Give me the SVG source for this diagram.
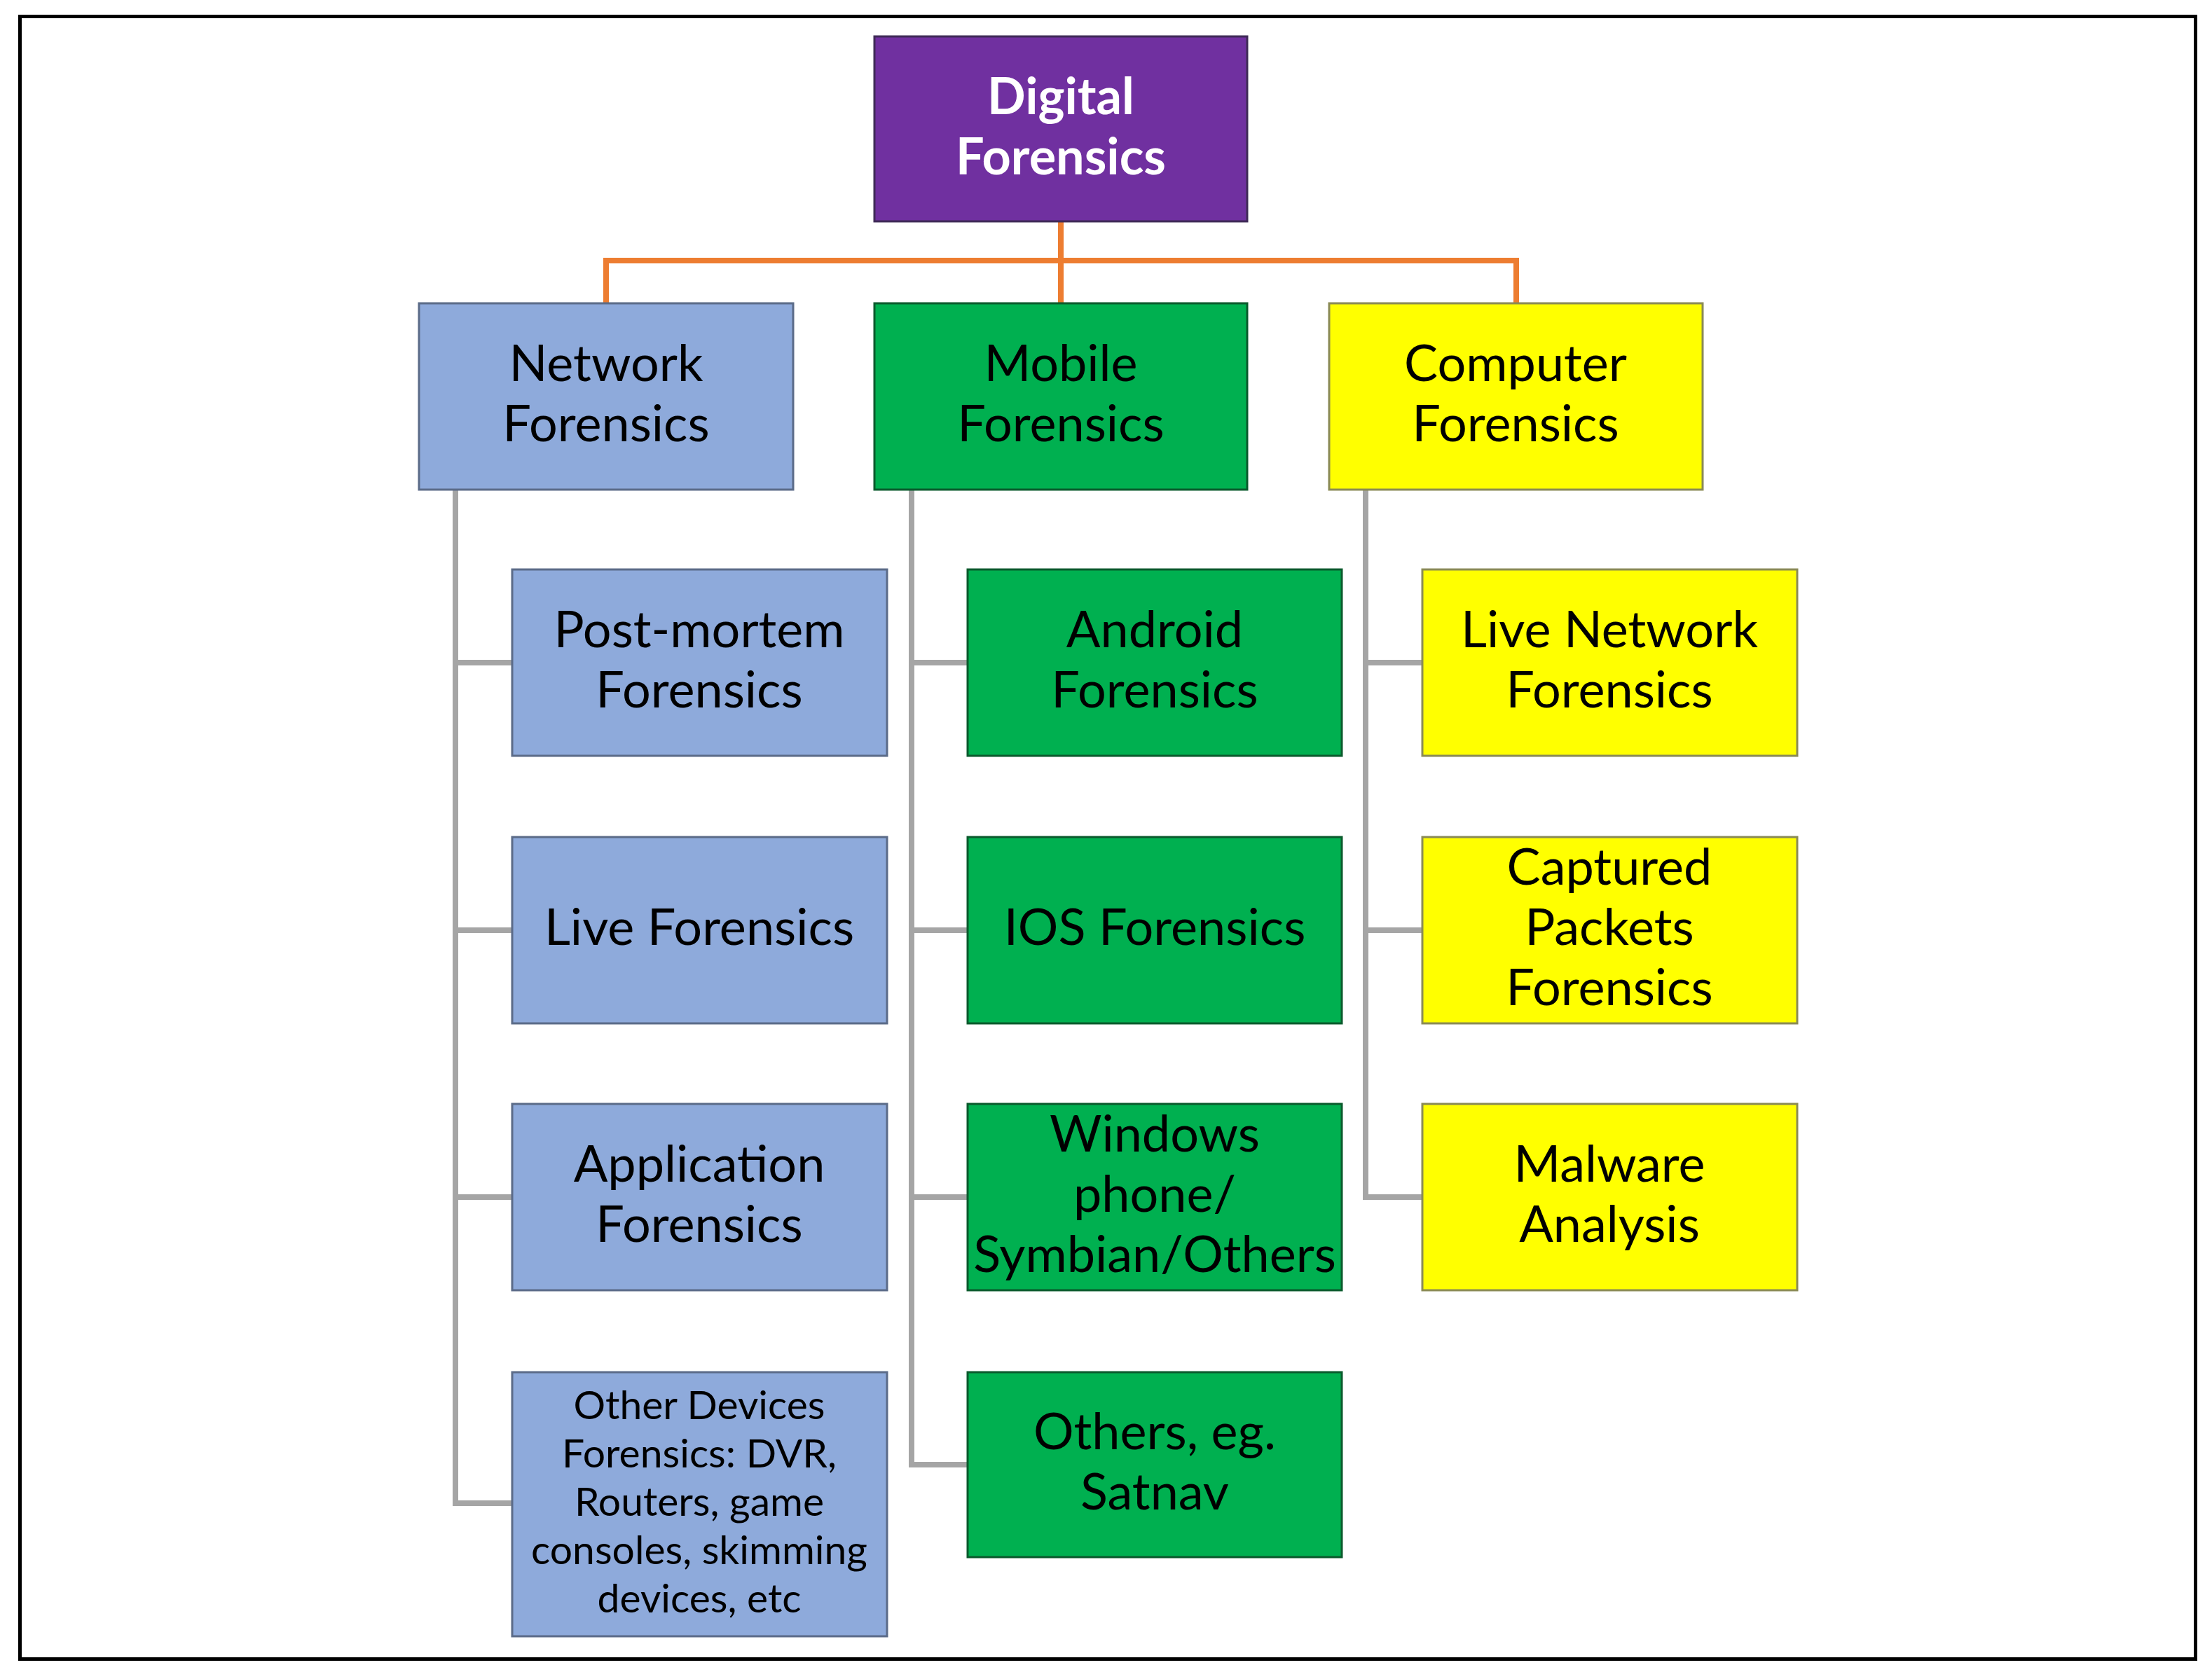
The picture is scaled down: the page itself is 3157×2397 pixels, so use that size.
<svg xmlns="http://www.w3.org/2000/svg" width="3157" height="2397" viewBox="0 0 3157 2397">
<style>
text{font-family:Lato,"Noto Sans","Liberation Sans",sans-serif;font-size:72px;fill:#000;text-anchor:middle}
.small{font-size:57px}
.top{fill:#7030a0;stroke:#3f2a57;stroke-width:3}
.top-t{fill:#fff;font-weight:bold}
.net{fill:#8eaadb;stroke:#5b6b88;stroke-width:3}
.mob{fill:#00b050;stroke:#0a5a2c;stroke-width:3}
.com{fill:#ffff00;stroke:#8a8a55;stroke-width:3}
.org{stroke:#ed7d31;stroke-width:8;fill:none}
.gry{stroke:#a5a5a5;stroke-width:8;fill:none}
</style>
<rect x="28.5" y="23.5" width="3105" height="2345" fill="#fff" stroke="#000" stroke-width="5"/>
<g id="connectors">
<path class="org" d="M1514 316V433M865 433V372H2164V433"/>
<path class="gry" d="M650 699V2146H731M650 946H731M650 1328H731M650 1709H731"/>
<path class="gry" d="M1301 699V2091H1381M1301 946H1381M1301 1328H1381M1301 1709H1381"/>
<path class="gry" d="M1949 699V1709H2030M1949 946H2030M1949 1328H2030"/>
</g>
<g id="digital">
<rect class="top" x="1248" y="52" width="532" height="264"/>
<text class="top-t" x="1514" y="163">Digital</text>
<text class="top-t" x="1514" y="249">Forensics</text>
</g>
<g id="network">
<rect class="net" x="598" y="433" width="534" height="266"/>
<text x="865" y="544">Network</text>
<text x="865" y="630">Forensics</text>
</g>
<g id="mobile">
<rect class="mob" x="1248" y="433" width="532" height="266"/>
<text x="1514" y="544">Mobile</text>
<text x="1514" y="630">Forensics</text>
</g>
<g id="computer">
<rect class="com" x="1897" y="433" width="533" height="266"/>
<text x="2163" y="544">Computer</text>
<text x="2163" y="630">Forensics</text>
</g>
<g id="postmortem">
<rect class="net" x="731" y="813" width="535" height="266"/>
<text x="998" y="924">Post-mortem</text>
<text x="998" y="1010">Forensics</text>
</g>
<g id="live">
<rect class="net" x="731" y="1195" width="535" height="266"/>
<text x="998" y="1349">Live Forensics</text>
</g>
<g id="application">
<rect class="net" x="731" y="1576" width="535" height="266"/>
<text x="998" y="1687">Application</text>
<text x="998" y="1773">Forensics</text>
</g>
<g id="otherdevices">
<rect class="net" x="731" y="1959" width="535" height="377"/>
<text class="small" x="998" y="2026">Other Devices</text>
<text class="small" x="998" y="2095">Forensics: DVR,</text>
<text class="small" x="998" y="2164">Routers, game</text>
<text class="small" x="998" y="2233">consoles, skimming</text>
<text class="small" x="998" y="2302">devices, etc</text>
</g>
<g id="android">
<rect class="mob" x="1381" y="813" width="534" height="266"/>
<text x="1648" y="924">Android</text>
<text x="1648" y="1010">Forensics</text>
</g>
<g id="ios">
<rect class="mob" x="1381" y="1195" width="534" height="266"/>
<text x="1648" y="1349">IOS Forensics</text>
</g>
<g id="windows">
<rect class="mob" x="1381" y="1576" width="534" height="266"/>
<text x="1648" y="1644">Windows</text>
<text x="1648" y="1730">phone/</text>
<text x="1648" y="1816">Symbian/Others</text>
</g>
<g id="satnav">
<rect class="mob" x="1381" y="1959" width="534" height="264"/>
<text x="1648" y="2069">Others, eg.</text>
<text x="1648" y="2155">Satnav</text>
</g>
<g id="livenetwork">
<rect class="com" x="2030" y="813" width="535" height="266"/>
<text x="2297" y="924">Live Network</text>
<text x="2297" y="1010">Forensics</text>
</g>
<g id="captured">
<rect class="com" x="2030" y="1195" width="535" height="266"/>
<text x="2297" y="1263">Captured</text>
<text x="2297" y="1349">Packets</text>
<text x="2297" y="1435">Forensics</text>
</g>
<g id="malware">
<rect class="com" x="2030" y="1576" width="535" height="266"/>
<text x="2297" y="1687">Malware</text>
<text x="2297" y="1773">Analysis</text>
</g>
</svg>
